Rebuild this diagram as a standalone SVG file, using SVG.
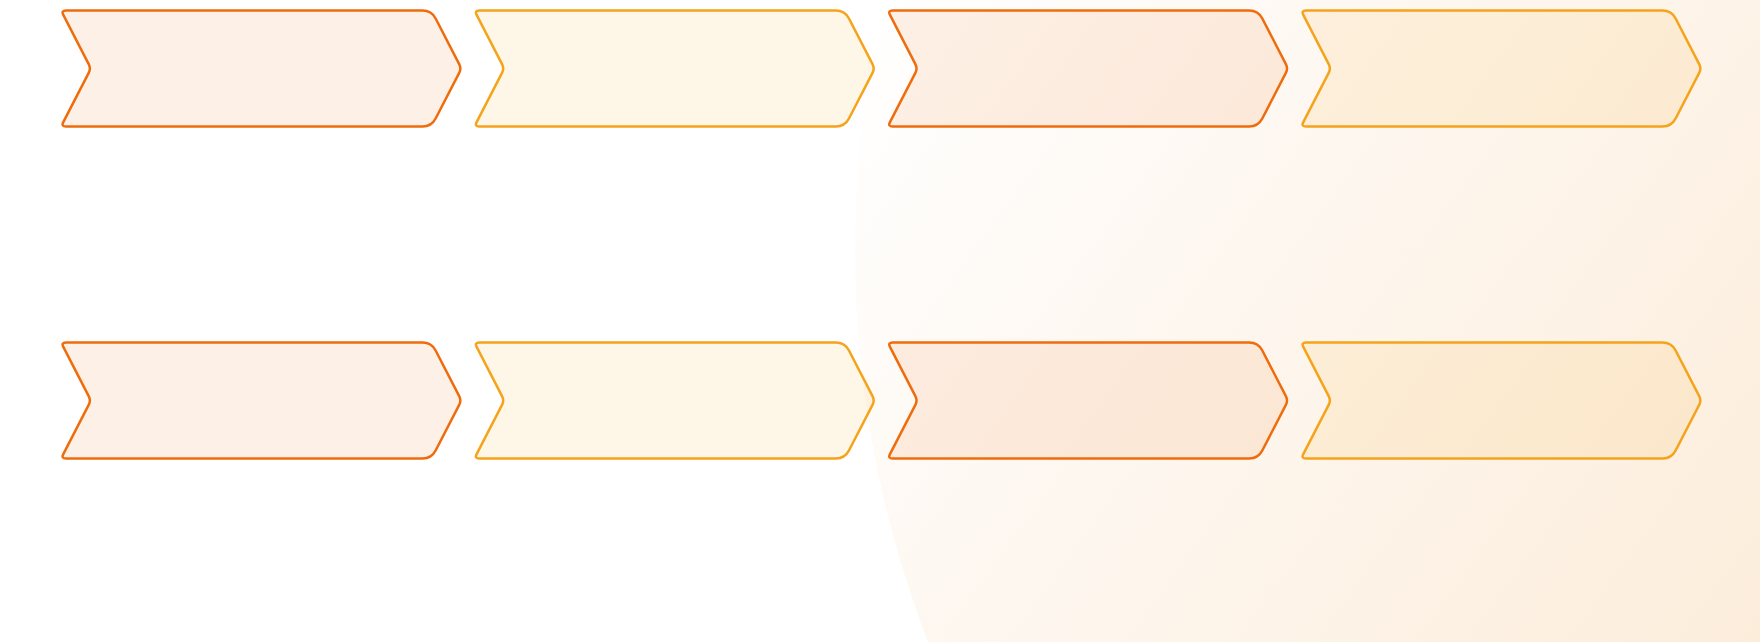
<svg xmlns="http://www.w3.org/2000/svg" xmlns:xlink="http://www.w3.org/1999/xlink" width="1760" height="642" viewBox="0 0 1760 642">
  <style>
    .orange { fill: #F06A0A; fill-opacity: 0.1; stroke: #EF6C0C; stroke-width: 2.5; }
    .amber { fill: #F5A316; fill-opacity: 0.1; stroke: #F5A31A; stroke-width: 2.5; }
  </style>
  <defs>
    <linearGradient id="bgGrad" gradientUnits="userSpaceOnUse" x1="880" y1="0" x2="1760" y2="642">
      <stop offset="0" stop-color="#FFFFFF"/>
      <stop offset="0.35" stop-color="#FEF8F2"/>
      <stop offset="1" stop-color="#FCEDDB"/>
    </linearGradient>
    <path id="chev" d="M5 0 L361.5 0 Q370.5 0 374.63 7.99 L398.2 53.56 Q400.5 58 398.2 62.44 L374.63 108.01 Q370.5 116 361.5 116 L5 116 Q0 116 2.3 111.56 L27.7 62.44 Q30 58 27.7 53.56 L2.3 4.44 Q0 0 5 0 Z"/>
  </defs>
  <rect x="0" y="0" width="1760" height="642" fill="#FFFFFF"/>
  <circle cx="1944" cy="250" r="1089" fill="url(#bgGrad)"/>
  <g id="connectors"></g>
  <g id="node-1-1" class="orange"><use href="#chev" x="61" y="10.5"/></g>
  <g id="node-1-2" class="amber"><use href="#chev" x="474.33" y="10.5"/></g>
  <g id="node-1-3" class="orange"><use href="#chev" x="887.67" y="10.5"/></g>
  <g id="node-1-4" class="amber"><use href="#chev" x="1301" y="10.5"/></g>
  <g id="node-2-1" class="orange"><use href="#chev" x="61" y="342.5"/></g>
  <g id="node-2-2" class="amber"><use href="#chev" x="474.33" y="342.5"/></g>
  <g id="node-2-3" class="orange"><use href="#chev" x="887.67" y="342.5"/></g>
  <g id="node-2-4" class="amber"><use href="#chev" x="1301" y="342.5"/></g>
</svg>
